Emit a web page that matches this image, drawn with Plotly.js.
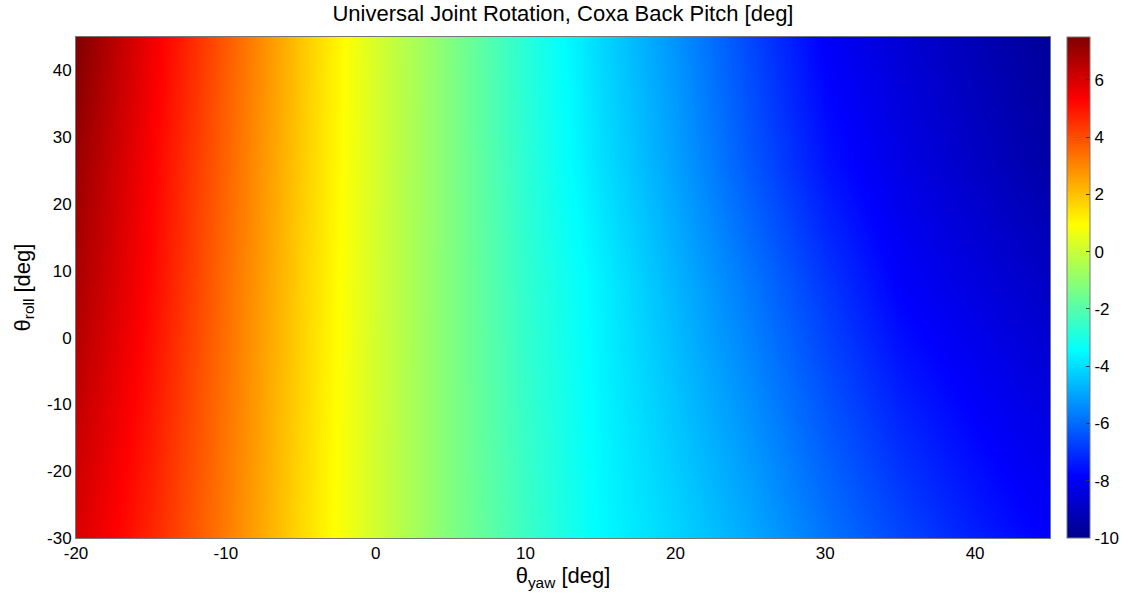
<!DOCTYPE html>
<html>
<head>
<meta charset="utf-8">
<script src="https://cdn.plot.ly/plotly-3.0.1.min.js"></script>
<style>html,body{margin:0;padding:0;background:#fff;}</style>
</head>
<body>
<div id="chart" style="width:1123px;height:594px;"></div>
<script>
var yawDeg = [-20, -15, -10, -5, 0, 5, 10, 15, 20, 25, 30, 35, 40, 45];
var rollDeg = [-30, 7.5, 26, 45];
var pitchRollM30 = [5.97, 4.70, 3.19, 1.58, 0.12, -1.25, -2.43, -3.50, -4.15, -4.90, -5.80, -6.60, -7.30, -7.90];
var pitchRoll7  = [6.76, 5.20, 3.45, 1.75, 0.17, -1.25, -2.60, -3.65, -4.70, -5.75, -6.85, -7.85, -8.40, -8.90];
var pitchRoll26 = [7.06, 5.35, 3.60, 1.85, 0.20, -1.25, -2.70, -3.95, -5.05, -6.30, -7.50, -8.30, -8.90, -9.50];
var pitchRoll45 = [7.50, 5.58, 3.79, 1.93, 0.23, -1.25, -2.77, -4.10, -5.27, -6.60, -7.90, -8.60, -9.20, -9.75];
var xTicks = [-20, -10, 0, 10, 20, 30, 40];
var yTicks = [-30, -20, -10, 0, 10, 20, 30, 40];
var cTicks = [-10, -8, -6, -4, -2, 0, 2, 4, 6];

function lbl(v) { return String(v); } // plain hyphen-minus, as in the reference

var jet = [
  [0, 'rgb(0,0,140)'],
  [0.125, 'rgb(0,0,255)'],
  [0.375, 'rgb(0,255,255)'],
  [0.625, 'rgb(255,255,0)'],
  [0.875, 'rgb(255,0,0)'],
  [1, 'rgb(128,0,0)']
];

var FONT = 'Liberation Sans, Arial, sans-serif';

var trace = {
  type: 'heatmap',
  x: yawDeg,
  y: rollDeg,
  z: [pitchRollM30, pitchRoll7, pitchRoll26, pitchRoll45],
  zsmooth: 'best',
  zmin: -10,
  zmax: 7.5,
  colorscale: jet,
  hoverinfo: 'x+y+z',
  colorbar: {
    x: 1.0175,
    xanchor: 'left',
    xref: 'paper',
    y: 0, yanchor: 'bottom', yref: 'paper',
    len: 1, lenmode: 'fraction',
    thickness: 23,
    thicknessmode: 'pixels',
    outlinewidth: 1,
    outlinecolor: '#777',
    xpad: 0, ypad: 0,
    tickmode: 'array',
    tickvals: cTicks,
    ticktext: cTicks.map(lbl),
    ticks: 'inside',
    ticklen: 4,
    tickcolor: '#333',
    tickfont: {family: FONT, size: 17, color: '#000'}
  }
};

var layout = {
  width: 1123,
  height: 594,
  margin: {l: 76, r: 73, t: 37, b: 56, pad: 0, autoexpand: false},
  paper_bgcolor: '#fff',
  plot_bgcolor: '#fff',
  font: {family: FONT, size: 17, color: '#000'},
  title: {
    text: 'Universal Joint Rotation, Coxa Back Pitch [deg]',
    font: {family: FONT, size: 22, color: '#000'},
    x: 0.5, xanchor: 'center', xref: 'paper',
    y: 0.978, yanchor: 'middle', yref: 'container'
  },
  xaxis: {
    range: [-20, 45],
    tickmode: 'array',
    tickvals: xTicks,
    ticktext: xTicks.map(lbl),
    ticks: '',
    showgrid: false,
    zeroline: false,
    showline: true,
    mirror: true,
    linecolor: '#777',
    linewidth: 1,
    tickfont: {family: FONT, size: 17},
    title: {text: 'θ<sub>yaw</sub> [deg]', font: {family: FONT, size: 22}, standoff: 2}
  },
  yaxis: {
    range: [-30, 45],
    tickmode: 'array',
    tickvals: yTicks,
    ticktext: yTicks.map(lbl),
    ticks: '',
    showgrid: false,
    zeroline: false,
    showline: true,
    mirror: true,
    linecolor: '#777',
    linewidth: 1,
    tickfont: {family: FONT, size: 17},
    title: {text: 'θ<sub>roll</sub> [deg]', font: {family: FONT, size: 22}, standoff: 10}
  }
};

Plotly.newPlot('chart', [trace], layout, {displayModeBar: false, staticPlot: true});
</script>
</body>
</html>
